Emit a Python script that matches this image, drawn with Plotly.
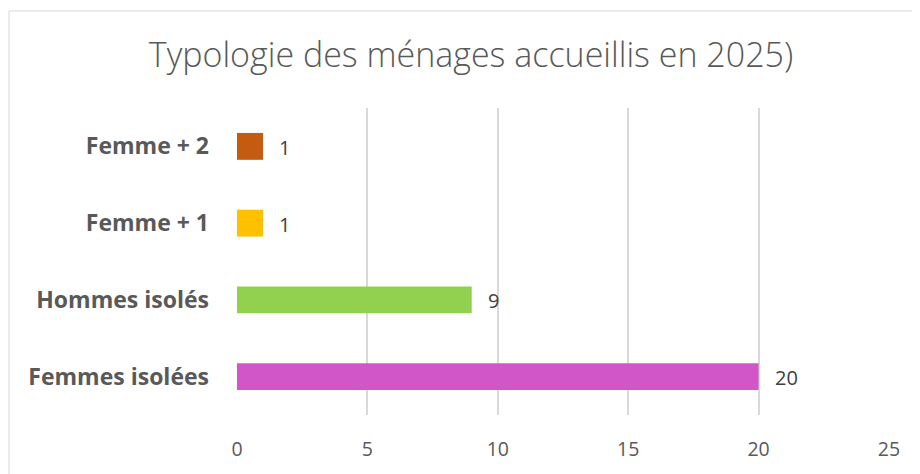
import plotly.graph_objects as go

categories = ["Femmes isolées", "Hommes isolés", "Femme + 1", "Femme + 2"]
values = [20, 9, 1, 1]
colors = ["#D157C8", "#92D050", "#FFC000", "#C55A11"]
tick_vals = [0, 5, 10, 15, 20, 25]
title_text = "Typologie des ménages accueillis en 2025)"

fig = go.Figure()
fig.add_trace(go.Bar(
    y=categories, x=values, orientation="h",
    marker=dict(color=colors, line=dict(width=0)),
    width=0.35, hoverinfo="skip",
))

for c, v in zip(categories, values):
    fig.add_annotation(x=v, y=c, text=str(v), showarrow=False,
                       xanchor="left", xshift=14, yshift=-1,
                       font=dict(family="Open Sans", size=20, color="#404040"))

fig.add_shape(type="rect", xref="paper", yref="paper",
              x0=-0.3497, x1=1.1, y0=-0.3, y1=1.316,
              line=dict(color="#D9D9D9", width=1), layer="below")

fig.update_layout(
    width=912, height=466,
    margin=dict(l=229, r=31, t=100, b=56),
    paper_bgcolor="white", plot_bgcolor="white",
    showlegend=False,
    title=dict(text=title_text, x=0.5077, xanchor="center", y=0.899, yanchor="middle",
               font=dict(family="Open Sans", size=34, color="#595959", weight=300)),
    xaxis=dict(range=[0, 25], tickvals=tick_vals, showgrid=True,
               gridcolor="#D9D9D9", gridwidth=1.5, zeroline=False,
               showline=False, ticks="", ticklabelstandoff=20,
               tickfont=dict(family="Open Sans", size=19.5, color="#595959"),
               fixedrange=True),
    yaxis=dict(range=[-0.5, 3.5], showgrid=False, zeroline=False, ticks="",
               showline=False, ticklabelstandoff=27,
               tickfont=dict(family="Open Sans", size=23, color="#595959", weight="bold"),
               fixedrange=True),
)

fig.write_html("out.html")
